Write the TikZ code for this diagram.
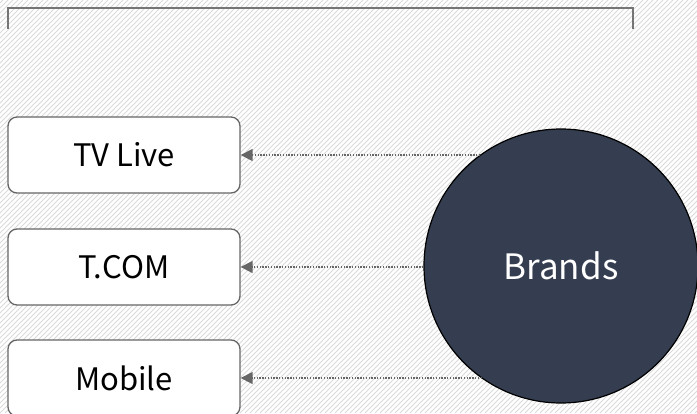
\documentclass[tikz,border=0pt]{standalone}
\usepackage{fontspec}
\setmainfont{Noto Sans CJK KR}
\usetikzlibrary{arrows.meta}
\definecolor{navy}{HTML}{343E50}
\definecolor{edge}{HTML}{666666}
\definecolor{hatch}{HTML}{DADADA}
\tikzset{
  boxnode/.style={draw=edge, line width=1.3pt, rounded corners=9pt, fill=white,
    minimum width=232pt, minimum height=76pt, inner sep=0pt, font=\fontsize{31}{34}\selectfont},
  conn/.style={draw=edge, line width=1.4pt, dash pattern=on 1.4pt off 1.4pt, -{Triangle[length=12pt,width=12pt]}},
  bracketline/.style={draw=edge!90, line width=2.2pt}
}
\begin{document}
\begin{tikzpicture}[x=1pt,y=-1pt]
\useasboundingbox (0,0) rectangle (697,413);
\fill[white] (0,0) rectangle (697,413);
\begin{scope}
\clip (0,0) rectangle (697,413);
\foreach \i in {-420,-415,...,700} {
  \draw[hatch, line width=0.8pt] (\i,413) -- (\i+413,0);
}
\end{scope}
\draw[bracketline] (8,29) -- (8,8) -- (633,8) -- (633,29);
\node[boxnode] (tv) at (124,155) {TV Live};
\node[boxnode] (tcom) at (124,267) {T.COM};
\node[boxnode] (mob) at (124,378) {Mobile};
\node[circle, draw=black, line width=1.2pt, fill=navy, minimum size=274pt, inner sep=0pt,
  text=white, font=\fontsize{35}{38}\selectfont] (brands) at (561,266) {Brands};
\draw[conn] (tv.east -| brands.126.6) -- (tv.east);
\draw[conn] (tcom.east -| brands.west) -- (tcom.east);
\draw[conn] (mob.east -| brands.235.6) -- (mob.east);
\end{tikzpicture}
\end{document}
